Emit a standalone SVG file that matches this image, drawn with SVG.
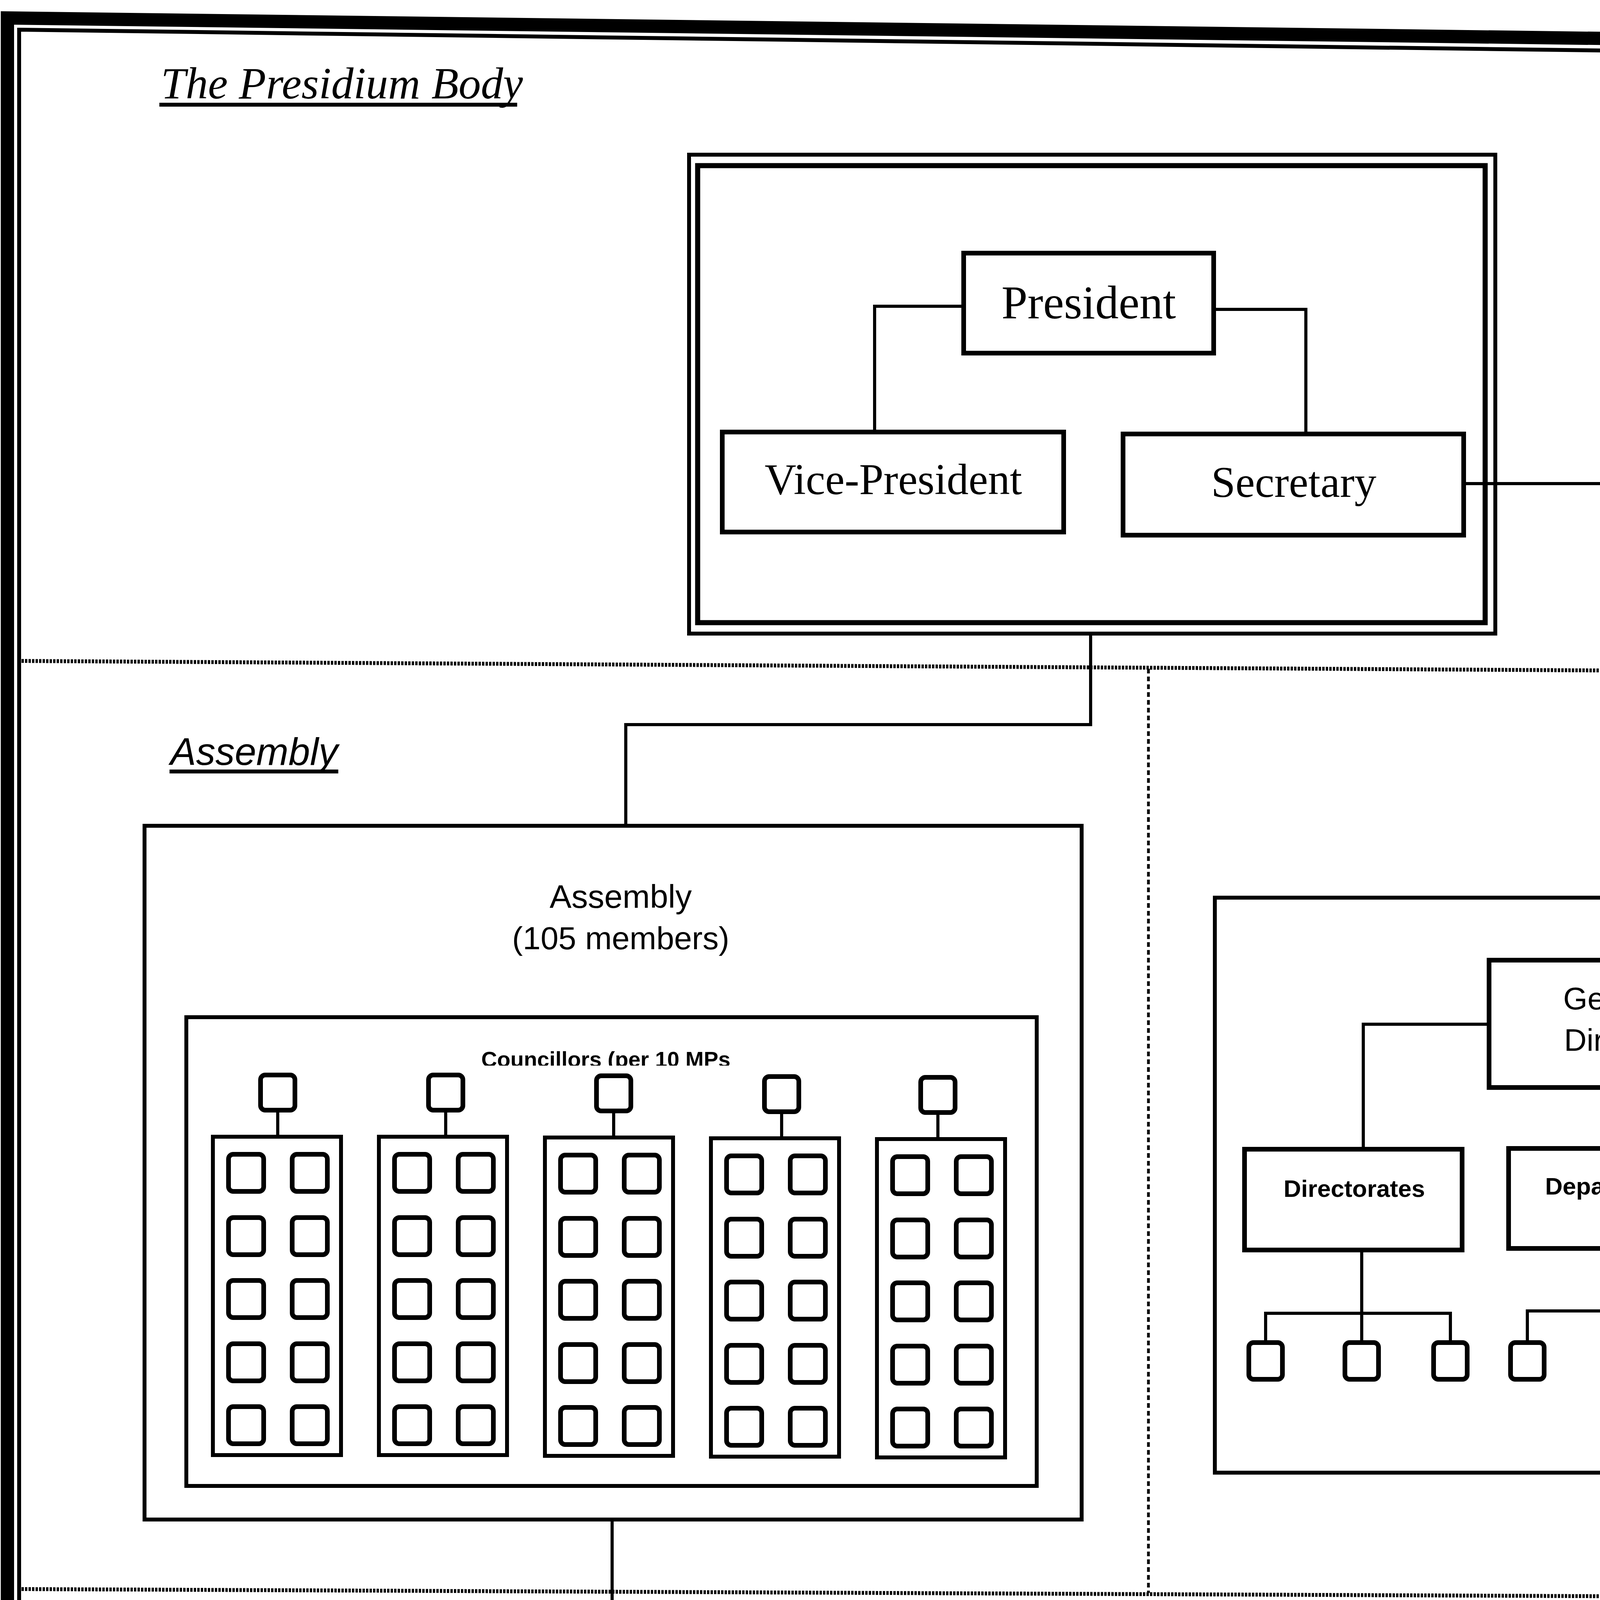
<svg xmlns="http://www.w3.org/2000/svg" width="5424" height="7168" viewBox="0 0 5424 7168">
<style>
.frame{fill:none;stroke:#000}
.box{fill:#fff;stroke:#000;stroke-width:12}
.thin{fill:none;stroke:#000;stroke-width:10}
.ln{fill:none;stroke:#000;stroke-width:8;stroke-linecap:square}
.ul{fill:none;stroke:#000;stroke-width:10}
.dot{fill:none;stroke:#000;stroke-width:10;stroke-dasharray:6 3}
.vdot{fill:none;stroke:#000;stroke-width:7;stroke-dasharray:12 8}
.sq{fill:#fff;stroke:#000;stroke-width:12}
.serif{font-family:"Liberation Serif","Times New Roman",serif;fill:#000}
.sans{font-family:"Liberation Sans",Arial,sans-serif;fill:#000}
.c{text-anchor:middle}
.e{text-anchor:end}
.lbl{font-style:italic}
.box-t{font-size:112px}
.cm{font-size:110px}
.desc{font-size:110px}
.li{font-size:88px}
.bul{font-size:100px;font-weight:bold}
.adm{font-size:62px;font-weight:bold}
</style>
<defs>
<clipPath id="clipCouncil"><rect x="1100" y="2640" width="900" height="88"/></clipPath>
</defs>
<rect x="0" y="0" width="5424" height="7168" fill="#fff"/>

<g id="frame">
<path class="frame" stroke-width="34" d="M19,46 L5401,115 L5401,7146 L19,7148 Z"/>
<path class="frame" stroke-width="10" d="M49,76 L5372,146 L5372,7115 L49,7110 Z"/>
</g>

<g id="separators">
<line class="dot" x1="55" y1="1692" x2="5368" y2="1724"/>
<line class="dot" x1="55" y1="4068" x2="5368" y2="4092"/>
<line class="vdot" x1="2940" y1="1712" x2="2940" y2="4078"/>
</g>

<g id="section-labels">
<text class="serif lbl" x="412" y="252" font-size="114">The Presidium Body</text>
<line class="ul" x1="408" y1="268" x2="1324" y2="268" stroke-width="11"/>
<text class="sans lbl" x="436" y="1958" font-size="99">Assembly</text>
<line class="ul" x1="434" y1="1975" x2="866" y2="1975" stroke-width="7"/>
<text class="sans lbl" x="4365" y="1980" font-size="104">Administration</text>
<line class="ul" x1="4362" y1="1997" x2="5030" y2="1997" stroke-width="7"/>
<text class="serif lbl" x="426" y="4430" font-size="110">Committees</text>
<line class="ul" x1="423" y1="4447" x2="955" y2="4447" stroke-width="11"/>
</g>

<g id="presidium-body">
<rect x="1764" y="396" width="2064" height="1226" fill="none" stroke="#000" stroke-width="10"/>
<rect x="1786" y="424" width="2016" height="1170" fill="none" stroke="#000" stroke-width="13"/>
</g>
<g id="assembly">
<rect class="thin" x="370" y="2114" width="2399" height="1776"/>
<text class="sans c" x="1589" y="2324" font-size="84">Assembly</text>
<text class="sans c" x="1589" y="2430" font-size="82">(105 members)</text>
</g>
<g id="councillors">
<rect class="thin" x="477" y="2604" width="2177" height="1200"/>
<text class="sans c" x="1551" y="2731" font-size="56" font-weight="bold" clip-path="url(#clipCouncil)">Councillors (per 10 MPs</text>
</g>
<g id="administration">
<rect class="thin" x="3110" y="2298" width="2060" height="1472"/>
</g>

<g id="connectors">
<polyline class="ln" points="2467,784 2239,784 2239,1106"/>
<polyline class="ln" points="3107,792 3343,792 3343,1111"/>
<polyline class="ln" points="3747,1238 4141,1238 4141,2458"/>
<polyline class="ln" points="2792,1622 2792,1855 1602,1855 1602,2112"/>
<line class="ln" x1="711" y1="2842" x2="711" y2="2910"/>
<line class="ln" x1="1141" y1="2842" x2="1141" y2="2910"/>
<line class="ln" x1="1571" y1="2844" x2="1571" y2="2912"/>
<line class="ln" x1="2001" y1="2846" x2="2001" y2="2914"/>
<line class="ln" x1="2401" y1="2848" x2="2401" y2="2916"/>
<polyline class="ln" points="3812,2622 3490,2622 3490,2942"/>
<polyline class="ln" points="4476,2622 4800,2622 4800,2942"/>
<line class="ln" x1="4150" y1="2784" x2="4150" y2="2940"/>
<line class="ln" x1="3486" y1="3200" x2="3486" y2="3437"/>
<polyline class="ln" points="3240,3437 3240,3362 3713,3362 3713,3437"/>
<line class="ln" x1="4149" y1="3196" x2="4149" y2="3437"/>
<polyline class="ln" points="3910,3437 3910,3356 4368,3356 4368,3437"/>
<line class="ln" x1="4803" y1="3198" x2="4803" y2="3437"/>
<polyline class="ln" points="4590,3437 4590,3359 5048,3359 5048,3437"/>
<polyline class="ln" points="1567,3889 1567,4224 2760,4224 2760,4376"/>
<polyline class="ln" points="1904,4625 945,4625 945,4961"/>
<polyline class="ln" points="3572,4636 4436,4636 4436,4967"/>
<line class="ln" x1="2758" y1="4873" x2="2758" y2="4962"/>
<line class="ln" x1="2740" y1="5216" x2="2740" y2="5390"/>
</g>

<g id="president">
<rect class="box" x="2467" y="648" width="640" height="256"/>
<text class="serif c" x="2787" y="815" font-size="120">President</text>
</g>
<g id="vice-president">
<rect class="box" x="1849" y="1106" width="874" height="256"/>
<text class="serif c box-t" x="2287" y="1265">Vice-President</text>
</g>
<g id="secretary">
<rect class="box" x="2875" y="1111" width="872" height="259"/>
<text class="serif c box-t" x="3312" y="1272">Secretary</text>
</g>

<g id="councillor-group-1">
<rect class="sq" x="667" y="2752" width="88" height="90" rx="12"/>
<rect class="thin" x="545" y="2910" width="328" height="815"/>
<rect class="sq" x="585" y="2955" width="90" height="95" rx="12"/><rect class="sq" x="748" y="2955" width="90" height="95" rx="12"/>
<rect class="sq" x="585" y="3117" width="90" height="95" rx="12"/><rect class="sq" x="748" y="3117" width="90" height="95" rx="12"/>
<rect class="sq" x="585" y="3278" width="90" height="95" rx="12"/><rect class="sq" x="748" y="3278" width="90" height="95" rx="12"/>
<rect class="sq" x="585" y="3440" width="90" height="95" rx="12"/><rect class="sq" x="748" y="3440" width="90" height="95" rx="12"/>
<rect class="sq" x="585" y="3601" width="90" height="95" rx="12"/><rect class="sq" x="748" y="3601" width="90" height="95" rx="12"/>
</g>
<g id="councillor-group-2">
<rect class="sq" x="1097" y="2752" width="88" height="90" rx="12"/>
<rect class="thin" x="970" y="2910" width="328" height="815"/>
<rect class="sq" x="1010" y="2955" width="90" height="95" rx="12"/><rect class="sq" x="1173" y="2955" width="90" height="95" rx="12"/>
<rect class="sq" x="1010" y="3117" width="90" height="95" rx="12"/><rect class="sq" x="1173" y="3117" width="90" height="95" rx="12"/>
<rect class="sq" x="1010" y="3278" width="90" height="95" rx="12"/><rect class="sq" x="1173" y="3278" width="90" height="95" rx="12"/>
<rect class="sq" x="1010" y="3440" width="90" height="95" rx="12"/><rect class="sq" x="1173" y="3440" width="90" height="95" rx="12"/>
<rect class="sq" x="1010" y="3601" width="90" height="95" rx="12"/><rect class="sq" x="1173" y="3601" width="90" height="95" rx="12"/>
</g>
<g id="councillor-group-3">
<rect class="sq" x="1527" y="2754" width="88" height="90" rx="12"/>
<rect class="thin" x="1395" y="2912" width="328" height="815"/>
<rect class="sq" x="1435" y="2957" width="90" height="95" rx="12"/><rect class="sq" x="1598" y="2957" width="90" height="95" rx="12"/>
<rect class="sq" x="1435" y="3119" width="90" height="95" rx="12"/><rect class="sq" x="1598" y="3119" width="90" height="95" rx="12"/>
<rect class="sq" x="1435" y="3280" width="90" height="95" rx="12"/><rect class="sq" x="1598" y="3280" width="90" height="95" rx="12"/>
<rect class="sq" x="1435" y="3442" width="90" height="95" rx="12"/><rect class="sq" x="1598" y="3442" width="90" height="95" rx="12"/>
<rect class="sq" x="1435" y="3603" width="90" height="95" rx="12"/><rect class="sq" x="1598" y="3603" width="90" height="95" rx="12"/>
</g>
<g id="councillor-group-4">
<rect class="sq" x="1957" y="2756" width="88" height="90" rx="12"/>
<rect class="thin" x="1820" y="2914" width="328" height="815"/>
<rect class="sq" x="1860" y="2959" width="90" height="95" rx="12"/><rect class="sq" x="2023" y="2959" width="90" height="95" rx="12"/>
<rect class="sq" x="1860" y="3121" width="90" height="95" rx="12"/><rect class="sq" x="2023" y="3121" width="90" height="95" rx="12"/>
<rect class="sq" x="1860" y="3282" width="90" height="95" rx="12"/><rect class="sq" x="2023" y="3282" width="90" height="95" rx="12"/>
<rect class="sq" x="1860" y="3444" width="90" height="95" rx="12"/><rect class="sq" x="2023" y="3444" width="90" height="95" rx="12"/>
<rect class="sq" x="1860" y="3605" width="90" height="95" rx="12"/><rect class="sq" x="2023" y="3605" width="90" height="95" rx="12"/>
</g>
<g id="councillor-group-5">
<rect class="sq" x="2357" y="2758" width="88" height="90" rx="12"/>
<rect class="thin" x="2245" y="2916" width="328" height="815"/>
<rect class="sq" x="2285" y="2961" width="90" height="95" rx="12"/><rect class="sq" x="2448" y="2961" width="90" height="95" rx="12"/>
<rect class="sq" x="2285" y="3123" width="90" height="95" rx="12"/><rect class="sq" x="2448" y="3123" width="90" height="95" rx="12"/>
<rect class="sq" x="2285" y="3284" width="90" height="95" rx="12"/><rect class="sq" x="2448" y="3284" width="90" height="95" rx="12"/>
<rect class="sq" x="2285" y="3446" width="90" height="95" rx="12"/><rect class="sq" x="2448" y="3446" width="90" height="95" rx="12"/>
<rect class="sq" x="2285" y="3607" width="90" height="95" rx="12"/><rect class="sq" x="2448" y="3607" width="90" height="95" rx="12"/>
</g>

<g id="general-director">
<rect class="box" x="3812" y="2458" width="664" height="326"/>
<text class="sans c" x="4144" y="2584" font-size="80">General</text>
<text class="sans c" x="4144" y="2690" font-size="80">Director</text>
</g>
<g id="directorates">
<rect class="box" x="3186" y="2942" width="557" height="258"/>
<text class="sans c adm" x="3467" y="3064">Directorates</text>
</g>
<g id="departments">
<rect class="box" x="3862" y="2940" width="558" height="256"/>
<text class="sans c adm" x="4145" y="3058">Departments</text>
</g>
<g id="sections">
<rect class="box" x="4530" y="2942" width="558" height="256"/>
<text class="sans c adm" x="4810" y="3062">Sections</text>
</g>
<g id="admin-units">
<rect class="sq" x="3197" y="3437" width="86" height="94" rx="12"/>
<rect class="sq" x="3443" y="3437" width="86" height="94" rx="12"/>
<rect class="sq" x="3670" y="3437" width="86" height="94" rx="12"/>
<rect class="sq" x="3867" y="3437" width="86" height="94" rx="12"/>
<rect class="sq" x="4105" y="3437" width="86" height="94" rx="12"/>
<rect class="sq" x="4325" y="3437" width="86" height="94" rx="12"/>
<rect class="sq" x="4547" y="3437" width="86" height="94" rx="12"/>
<rect class="sq" x="4758" y="3437" width="86" height="94" rx="12"/>
<rect class="sq" x="5005" y="3437" width="86" height="94" rx="12"/>
</g>

<g id="assembly-committees">
<rect class="box" x="1904" y="4376" width="1668" height="497"/>
<text class="serif c cm" x="2740" y="4530">Assembly Committees</text>
<text class="serif c" x="2735" y="4650" font-size="100" font-style="italic">(3-9 MPs in each committee, MPs</text>
<text class="serif c" x="2735" y="4767" font-size="100" font-style="italic">allowed to sit in 2 committees)</text>
</g>
<g id="temporary-committees">
<rect class="box" x="192" y="4961" width="1524" height="252"/>
<text class="serif c cm" x="954" y="5117">Temporary Committees</text>
</g>
<g id="standing-committees">
<rect class="box" x="1908" y="4962" width="1672" height="254"/>
<text class="serif c cm" x="2744" y="5117">Standing Committees</text>
</g>
<g id="investigative-committees">
<rect class="box" x="3708" y="4967" width="1508" height="250"/>
<text class="serif c cm" x="4462" y="5120">Investigative Committees</text>
</g>

<g id="temporary-description">
<rect class="box" x="190" y="5386" width="1525" height="412"/>
<text class="serif desc" x="276" y="5540">Formed</text>
<text class="serif desc" x="719" y="5540">to</text>
<text class="serif desc" x="911" y="5540">study</text>
<text class="serif desc e" x="1628" y="5540">specific,</text>
<text class="serif desc" x="276" y="5670">short-term subjects.</text>
</g>

<g id="standing-list">
<rect class="box" x="1978" y="5390" width="1510" height="1618"/>
<g class="serif bul">
<text x="2056" y="5516">•</text><text x="2056" y="5620">•</text><text x="2056" y="5724">•</text><text x="2056" y="5828">•</text>
<text x="2056" y="5932">•</text><text x="2056" y="6036">•</text><text x="2056" y="6140">•</text><text x="2056" y="6244">•</text>
<text x="2056" y="6348">•</text><text x="2056" y="6452">•</text><text x="2056" y="6556">•</text><text x="2056" y="6660">•</text>
<text x="2056" y="6764">•</text><text x="2056" y="6868">•</text>
</g>
<g class="serif li">
<text x="2262" y="5512">Legal Affairs</text>
<text x="2262" y="5616">Finance / Economy</text>
<text x="2262" y="5720">Agriculture</text>
<text x="2262" y="5824">Education</text>
<text x="2262" y="5928">Higher Education</text>
<text x="2262" y="6032">Health and Social Affairs</text>
<text x="2262" y="6136">Cultural Affairs</text>
<text x="2262" y="6240">Internal Affairs</text>
<text x="2262" y="6344">Islamic Affairs (Awqaf)</text>
<text x="2262" y="6448">Planning &amp; Reconstruction</text>
<text x="2262" y="6552">General Services</text>
<text x="2262" y="6656">Industry, Minerals &amp; Energy</text>
<text x="2262" y="6760">Peshmerga (Defence)</text>
<text x="2262" y="6864">Foreign Affairs</text>
</g>
</g>

<g id="investigative-description">
<rect class="box" x="3724" y="5387" width="1514" height="632"/>
<text class="serif desc" x="3812" y="5540">Formed</text>
<text class="serif desc" x="4377" y="5540">to</text>
<text class="serif desc e" x="5154" y="5540">investigate</text>
<text class="serif desc" x="3812" y="5668">approved</text>
<text class="serif desc" x="4285" y="5668">subjects.</text>
<text class="serif desc" x="4738" y="5668">May</text>
<text class="serif desc e" x="5154" y="5668">call</text>
<text class="serif desc" x="3812" y="5796">upon</text>
<text class="serif desc" x="4116" y="5796">technical</text>
<text class="serif desc" x="4613" y="5796">advisors</text>
<text class="serif desc e" x="5154" y="5796">to</text>
<text class="serif desc" x="3812" y="5924">present evidence.</text>
</g>
</svg>
